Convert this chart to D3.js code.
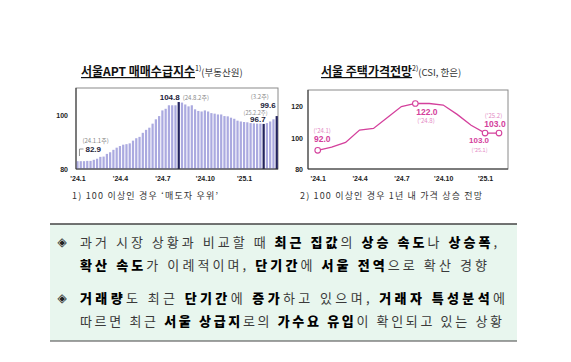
<!DOCTYPE html>
<html>
<head>
<meta charset="utf-8">
<script src="https://cdn.jsdelivr.net/npm/d3@7"></script>
<style>
  body { margin: 0; background: #fff; }
  svg { display: block; }
</style>
</head>
<body>
<div id="chart"></div>
<script>
// Seoul APT supply-demand index, weekly 24.1.1주 ~ 25.3.2주
var weekValues = [82.9, 82.9, 82.9, 83.0, 83.0, 83.4, 83.8, 84.5, 84.6, 85.6,
  86.2, 87.1, 87.9, 88.5, 89.0, 89.2, 89.5, 90.5, 91.4, 91.9,
  93.4, 94.5, 95.3, 96.8, 98.4, 99.6, 101.7, 102.3, 103.6, 103.6,
  103.6, 104.8, 104.6, 103.9, 103.2, 103.6, 102.1, 101.5, 101.3, 101.7,
  101.3, 100.7, 100.5, 100.2, 100.2, 99.6, 99.5, 99.0, 98.6, 97.9,
  97.6, 97.4, 97.3, 97.0, 96.9, 96.8, 96.8, 96.7, 97.0, 97.6,
  98.4, 99.6];
var darkWeeks = [31, 57, 61];
var weekTickIdx = [0, 13, 26, 39, 51];
var weekTickLabels = ["'24.1", "'24.4", "'24.7", "'24.10", "'25.1"];
var barYTicks = [80, 100];

// Seoul housing price outlook CSI, monthly 24.1 ~ 25.2
var csiValues = [92.0, 94.0, 97.0, 105.0, 106.0, 113.0, 120.0, 122.0, 122.0, 121.0, 115.0, 108.0, 103.0, 103.0];
var csiMarked = [0, 7, 12, 13];
var monthTickIdx = [0, 3, 6, 9, 12];
var monthTickLabels = ["'24.1", "'24.4", "'24.7", "'24.10", "'25.1"];
var csiYTicks = [80, 100, 120];

var W = 571, H = 362;
var svg = d3.select("#chart").append("svg").attr("width", W).attr("height", H);

var fontK = "'Noto Sans CJK KR', 'Noto Sans', sans-serif";
var fontL = "'Liberation Sans', Arial, sans-serif";

// ---------- left chart: bars ----------
var bL = 76, bR = 278, bT = 88, bB = 169;
var xb = d3.scaleBand().domain(d3.range(weekValues.length)).range([bL + 0.2, bR]).paddingInner(0.32).paddingOuter(0.05);
var yb = d3.scaleLinear().domain([80, 110]).range([bB, bT]);

svg.append("rect").attr("x", bL).attr("y", bT).attr("width", bR - bL).attr("height", bB - bT)
  .attr("fill", "none").attr("stroke", "#8a8a8a").attr("stroke-width", 1);

svg.append("g").selectAll("rect").data(weekValues).enter().append("rect")
  .attr("x", (d, i) => xb(i))
  .attr("y", d => yb(d))
  .attr("width", xb.bandwidth())
  .attr("height", d => bB - yb(d))
  .attr("fill", (d, i) => darkWeeks.indexOf(i) >= 0 ? "#23235e" : "#abaae0");

svg.append("line").attr("x1", bL).attr("x2", bL).attr("y1", bT).attr("y2", bB).attr("stroke", "#333");
svg.append("line").attr("x1", bL).attr("x2", bR).attr("y1", bB).attr("y2", bB).attr("stroke", "#333");

var xAxisB = d3.axisBottom(d3.scaleLinear().domain([0, weekValues.length - 1]).range([xb(0) + xb.bandwidth() / 2, xb(weekValues.length - 1) + xb.bandwidth() / 2]))
  .tickValues(weekTickIdx).tickFormat((d, i) => weekTickLabels[i]).tickSize(0).tickPadding(7);
svg.append("g").attr("transform", `translate(0, ${bB})`).call(xAxisB)
  .call(g => g.select(".domain").remove())
  .selectAll("text").attr("font-family", fontL).attr("font-size", 7).attr("font-weight", "bold").attr("fill", "#222");

var yAxisB = d3.axisLeft(yb).tickValues(barYTicks).tickSize(0).tickPadding(8);
svg.append("g").attr("transform", `translate(${bL}, 0)`).call(yAxisB)
  .call(g => g.select(".domain").remove())
  .selectAll("text").attr("font-family", fontL).attr("font-size", 7).attr("font-weight", "bold").attr("fill", "#222");

function barNote(x, y, txt, size, bold, color, anchor) {
  svg.append("text").attr("x", x).attr("y", y).attr("font-family", bold ? fontL : fontK)
    .attr("font-size", size).attr("font-weight", bold ? "bold" : "normal")
    .attr("fill", color).attr("text-anchor", anchor || "start").text(txt);
}
var cx0 = xb(0) + xb.bandwidth() / 2;
barNote(cx0 + 5, 143, "(24.1.1주)", 6, false, "#888");
barNote(cx0 + 8, 152, "82.9", 8, true, "#1d1d3a");
svg.append("polyline").attr("points", `${cx0 + 6},149 ${cx0 + 2},149 ${cx0 + 2},156`)
  .attr("fill", "none").attr("stroke", "#777").attr("stroke-width", 0.8);

var cxPeak = xb(31) + xb.bandwidth() / 2;
barNote(cxPeak + 1, yb(104.8) - 2, "104.8", 8, true, "#1d1d3a", "end");
barNote(cxPeak + 4, yb(104.8) - 2.5, "(24.8.2주)", 6, false, "#888");

var cxLow = xb(57) + xb.bandwidth() / 2;
barNote(cxLow + 2, yb(96.7) - 1.5, "96.7", 8, true, "#1d1d3a", "end");
barNote(cxLow + 4, yb(96.7) - 9, "(25.2.2주)", 5.5, false, "#888", "end");

var cxLast = xb(61) + xb.bandwidth() / 2;
barNote(cxLast - 1, yb(99.6) - 8, "99.6", 8, true, "#1d1d3a", "end");
barNote(cxLast - 8, yb(99.6) - 17.5, "(3.2주)", 6, false, "#888", "end");

// ---------- right chart: line ----------
var lL = 308, lR = 508, lT = 90, lB = 169;
var xl = d3.scaleLinear().domain([0, 13]).range([317.7, 499]);
var yl = d3.scaleLinear().domain([80, 130]).range([lB, 91]);
var pink = "#d4409c";

svg.append("rect").attr("x", lL).attr("y", lT).attr("width", lR - lL).attr("height", lB - lT)
  .attr("fill", "none").attr("stroke", "#8a8a8a").attr("stroke-width", 1);
svg.append("line").attr("x1", lL).attr("x2", lL).attr("y1", lT).attr("y2", lB).attr("stroke", "#333");
svg.append("line").attr("x1", lL).attr("x2", lR).attr("y1", lB).attr("y2", lB).attr("stroke", "#333");

var line = d3.line().x((d, i) => xl(i)).y(d => yl(d));
svg.append("path").datum(csiValues).attr("d", line).attr("fill", "none")
  .attr("stroke", pink).attr("stroke-width", 1.3);

svg.append("g").selectAll("circle").data(csiMarked).enter().append("circle")
  .attr("cx", i => xl(i)).attr("cy", i => yl(csiValues[i])).attr("r", 2.8)
  .attr("fill", "#fff").attr("stroke", pink).attr("stroke-width", 1.1);

var xAxisL = d3.axisBottom(xl).tickValues(monthTickIdx).tickFormat((d, i) => monthTickLabels[i]).tickSize(0).tickPadding(7);
svg.append("g").attr("transform", `translate(0, ${lB})`).call(xAxisL)
  .call(g => g.select(".domain").remove())
  .selectAll("text").attr("font-family", fontL).attr("font-size", 7).attr("font-weight", "bold").attr("fill", "#222");

var yAxisL = d3.axisLeft(yl).tickValues(csiYTicks).tickSize(0).tickPadding(5);
svg.append("g").attr("transform", `translate(${lL}, 0)`).call(yAxisL)
  .call(g => g.select(".domain").remove())
  .selectAll("text").attr("font-family", fontL).attr("font-size", 7).attr("font-weight", "bold").attr("fill", "#222");

function csiNote(x, y, txt, size, bold, anchor) {
  svg.append("text").attr("x", x).attr("y", y).attr("font-family", bold ? fontL : fontK)
    .attr("font-size", size).attr("font-weight", bold ? "bold" : "normal")
    .attr("fill", bold ? pink : "#e48ac4").attr("text-anchor", anchor || "middle").text(txt);
}
csiNote(xl(0) + 4.5, yl(92) - 17, "('24.1)", 6, false);
csiNote(xl(0) + 4.5, yl(92) - 8, "92.0", 8.5, true);
csiNote(xl(7) + 1, yl(122) + 12, "122.0", 8.5, true, "start");
csiNote(xl(7) + 2, yl(122) + 20, "('24.8)", 6, false, "start");
csiNote(xl(12) - 6, yl(103) + 10, "103.0", 8, true);
csiNote(xl(12) - 5.5, yl(103) + 18.5, "('25.1)", 5.5, false);
csiNote(xl(13) - 5.5, yl(103) - 15, "('25.2)", 6, false);
csiNote(xl(13) - 4, yl(103) - 6, "103.0", 8.5, true);

// ---------- titles ----------
function title(x, y, main, sup, sub) {
  var t = svg.append("text").attr("x", x).attr("y", y).attr("font-family", fontK).attr("fill", "#111");
  t.append("tspan").attr("font-size", 12).attr("font-weight", 700).attr("text-decoration", "underline").text(main);
  t.append("tspan").attr("font-size", 7).attr("dy", -5).text(sup);
  t.append("tspan").attr("font-size", 9.5).attr("dy", 5).attr("fill", "#333").text(sub);
}
title(81, 76, "서울APT 매매수급지수", "1)", "(부동산원)");
title(321, 76, "서울  주택가격전망", "2)", "(CSI, 한은)");

// ---------- footnotes ----------
svg.append("text").attr("x", 72).attr("y", 199).attr("font-family", fontK).attr("font-size", 9).attr("fill", "#333")
  .attr("textLength", 146).attr("lengthAdjust", "spacing")
  .text("1) 100 이상인 경우 ‘매도자 우위’");
svg.append("text").attr("x", 300).attr("y", 199).attr("font-family", fontK).attr("font-size", 9).attr("fill", "#333")
  .attr("textLength", 182).attr("lengthAdjust", "spacing")
  .text("2) 100 이상인 경우 1년 내 가격 상승 전망");

// ---------- summary box ----------
var boxL = 50, boxR = 517, boxT = 224, boxB = 341;
svg.append("rect").attr("x", boxL).attr("y", boxT).attr("width", boxR - boxL).attr("height", boxB - boxT).attr("fill", "#e8f6ee");
svg.append("line").attr("x1", boxL).attr("x2", boxR).attr("y1", boxT).attr("y2", boxT).attr("stroke", "#444").attr("stroke-width", 1.6);
svg.append("line").attr("x1", boxL).attr("x2", boxR).attr("y1", boxB).attr("y2", boxB).attr("stroke", "#444").attr("stroke-width", 1.2);

var lines = [
  { y: 247, x2: 497, parts: [["과거 시장 상황과 비교할 때 ", 0], ["최근 집값", 1], ["의 ", 0], ["상승 속도", 1], ["나 ", 0], ["상승폭", 1], [",", 0]] },
  { y: 270, x2: 487, parts: [["확산 속도", 1], ["가 이례적이며, ", 0], ["단기간", 1], ["에 ", 0], ["서울 전역", 1], ["으로 확산 경향", 0]] },
  { y: 303, x2: 505, parts: [["거래량", 1], ["도 최근 ", 0], ["단기간", 1], ["에 ", 0], ["증가", 1], ["하고 있으며, ", 0], ["거래자 특성분석", 1], ["에", 0]] },
  { y: 326, x2: 502, parts: [["따르면 최근 ", 0], ["서울 상급지", 1], ["로의 ", 0], ["가수요 유입", 1], ["이 확인되고 있는 상황", 0]] }
];
lines.forEach(function(l) {
  var t = svg.append("text").attr("x", 80).attr("y", l.y).attr("font-family", fontK).attr("font-size", 13)
    .attr("textLength", l.x2 - 80).attr("lengthAdjust", "spacing");
  l.parts.forEach(function(p) {
    t.append("tspan").attr("font-weight", p[1] ? 900 : 400).attr("fill", p[1] ? "#000" : "#3a3a3a").text(p[0]);
  });
});
[247, 303].forEach(function(y) {
  svg.append("text").attr("x", 62).attr("y", y - 1).attr("font-family", "'DejaVu Sans', sans-serif")
    .attr("font-size", 12).attr("text-anchor", "middle").attr("fill", "#222").text("◈");
});
</script>
</body>
</html>
